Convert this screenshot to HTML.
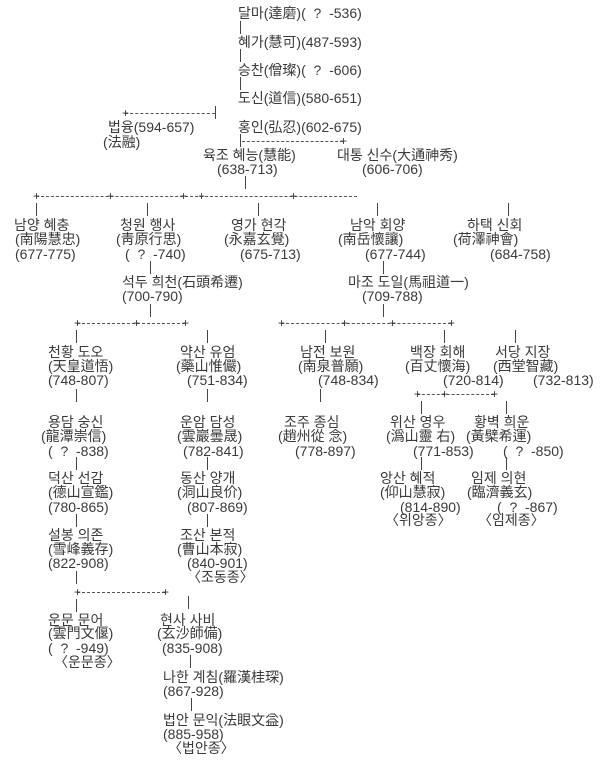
<!DOCTYPE html>
<html><head><meta charset="utf-8">
<style>
body{margin:0;background:#fff;}
#c{position:relative;width:600px;height:775px;overflow:hidden;background:#fff;font-family:"Liberation Sans","Noto Sans CJK KR",sans-serif;font-size:14px;color:#3a3a3a;}
.t{position:absolute;white-space:pre;line-height:14px;}
.v{position:absolute;width:1px;background:#444;height:13px;}
.h{position:absolute;height:0;border-top:1px dashed #555;}
.p{position:absolute;font-size:12px;line-height:11px;color:#333;}
</style></head><body><div id="c">
<div class="t" style="left:238px;top:6px">달마(達磨)(  ?  -536)</div>
<div class="v" style="left:240px;top:21px"></div>
<div class="t" style="left:238px;top:35px">혜가(慧可)(487-593)</div>
<div class="v" style="left:240px;top:49px"></div>
<div class="t" style="left:238px;top:63px">승찬(僧璨)(  ?  -606)</div>
<div class="v" style="left:240px;top:77px"></div>
<div class="t" style="left:238px;top:91px">도신(道信)(580-651)</div>
<div class="h" style="left:125px;top:113px;width:90px"></div>
<div class="p" style="left:122px;top:108px">+</div>
<div class="v" style="left:215px;top:106px"></div>
<div class="t" style="left:108px;top:120px">법융(594-657)</div>
<div class="t" style="left:103px;top:135px">(法融)</div>
<div class="t" style="left:238px;top:120px">홍인(弘忍)(602-675)</div>
<div class="v" style="left:240px;top:134px"></div>
<div class="h" style="left:242px;top:141px;width:101px"></div>
<div class="p" style="left:340px;top:136px">+</div>
<div class="t" style="left:203px;top:148px">육조 혜능(慧能)</div>
<div class="t" style="left:217px;top:162px">(638-713)</div>
<div class="t" style="left:337px;top:148px">대통 신수(大通神秀)</div>
<div class="t" style="left:362px;top:162px">(606-706)</div>
<div class="v" style="left:245px;top:176px"></div>
<div class="h" style="left:36px;top:196px;width:321px"></div>
<div class="p" style="left:33px;top:191px">+</div>
<div class="p" style="left:107px;top:191px">+</div>
<div class="p" style="left:180px;top:191px">+</div>
<div class="p" style="left:198px;top:191px">+</div>
<div class="p" style="left:290px;top:191px">+</div>
<div class="v" style="left:36px;top:203px"></div>
<div class="v" style="left:147px;top:203px"></div>
<div class="v" style="left:258px;top:203px"></div>
<div class="v" style="left:377px;top:203px"></div>
<div class="v" style="left:508px;top:203px"></div>
<div class="t" style="left:14px;top:218px">남양 혜충</div>
<div class="t" style="left:15px;top:232px">(南陽慧忠)</div>
<div class="t" style="left:15px;top:247px">(677-775)</div>
<div class="t" style="left:120px;top:218px">청원 행사</div>
<div class="t" style="left:116px;top:232px">(靑原行思)</div>
<div class="t" style="left:125px;top:247px">(  ?  -740)</div>
<div class="t" style="left:231px;top:218px">영가 현각</div>
<div class="t" style="left:224px;top:232px">(永嘉玄覺)</div>
<div class="t" style="left:240px;top:247px">(675-713)</div>
<div class="t" style="left:350px;top:218px">남악 회양</div>
<div class="t" style="left:338px;top:232px">(南岳懷讓)</div>
<div class="t" style="left:365px;top:247px">(677-744)</div>
<div class="t" style="left:467px;top:218px">하택 신회</div>
<div class="t" style="left:453px;top:232px">(荷澤神會)</div>
<div class="t" style="left:490px;top:247px">(684-758)</div>
<div class="v" style="left:150px;top:261px"></div>
<div class="v" style="left:383px;top:261px"></div>
<div class="t" style="left:122px;top:275px">석두 희천(石頭希遷)</div>
<div class="t" style="left:122px;top:289px">(700-790)</div>
<div class="t" style="left:348px;top:275px">마조 도일(馬祖道一)</div>
<div class="t" style="left:362px;top:289px">(709-788)</div>
<div class="v" style="left:150px;top:304px"></div>
<div class="v" style="left:383px;top:304px"></div>
<div class="h" style="left:77px;top:323px;width:108px"></div>
<div class="p" style="left:74px;top:318px">+</div>
<div class="p" style="left:133px;top:318px">+</div>
<div class="p" style="left:182px;top:318px">+</div>
<div class="h" style="left:281px;top:323px;width:170px"></div>
<div class="p" style="left:278px;top:318px">+</div>
<div class="p" style="left:341px;top:318px">+</div>
<div class="p" style="left:389px;top:318px">+</div>
<div class="p" style="left:448px;top:318px">+</div>
<div class="v" style="left:76px;top:330px"></div>
<div class="v" style="left:207px;top:330px"></div>
<div class="v" style="left:325px;top:330px"></div>
<div class="v" style="left:444px;top:330px"></div>
<div class="v" style="left:515px;top:330px"></div>
<div class="t" style="left:48px;top:345px">천황 도오</div>
<div class="t" style="left:48px;top:359px">(天皇道悟)</div>
<div class="t" style="left:48px;top:373px">(748-807)</div>
<div class="t" style="left:180px;top:345px">약산 유엄</div>
<div class="t" style="left:176px;top:359px">(藥山惟儼)</div>
<div class="t" style="left:187px;top:373px">(751-834)</div>
<div class="t" style="left:300px;top:345px">남전 보원</div>
<div class="t" style="left:298px;top:359px">(南泉普願)</div>
<div class="t" style="left:318px;top:373px">(748-834)</div>
<div class="t" style="left:410px;top:345px">백장 회해</div>
<div class="t" style="left:405px;top:359px">(百丈懷海)</div>
<div class="t" style="left:443px;top:373px">(720-814)</div>
<div class="t" style="left:495px;top:345px">서당 지장</div>
<div class="t" style="left:493px;top:359px">(西堂智藏)</div>
<div class="t" style="left:533px;top:373px">(732-813)</div>
<div class="v" style="left:76px;top:389px"></div>
<div class="v" style="left:207px;top:389px"></div>
<div class="v" style="left:320px;top:389px"></div>
<div class="h" style="left:417px;top:394px;width:77px"></div>
<div class="p" style="left:414px;top:389px">+</div>
<div class="p" style="left:441px;top:389px">+</div>
<div class="p" style="left:491px;top:389px">+</div>
<div class="v" style="left:421px;top:401px"></div>
<div class="v" style="left:506px;top:401px"></div>
<div class="t" style="left:48px;top:415px">용담 숭신</div>
<div class="t" style="left:41px;top:429px">(龍潭崇信)</div>
<div class="t" style="left:48px;top:444px">(  ?  -838)</div>
<div class="t" style="left:180px;top:415px">운암 담성</div>
<div class="t" style="left:177px;top:429px">(雲巖曇晟)</div>
<div class="t" style="left:183px;top:444px">(782-841)</div>
<div class="t" style="left:284px;top:415px">조주 종심</div>
<div class="t" style="left:278px;top:429px">(趙州從 念)</div>
<div class="t" style="left:295px;top:444px">(778-897)</div>
<div class="t" style="left:390px;top:415px">위산 영우</div>
<div class="t" style="left:386px;top:429px">(潙山靈 右)</div>
<div class="t" style="left:413px;top:444px">(771-853)</div>
<div class="t" style="left:474px;top:415px">황벽 희운</div>
<div class="t" style="left:466px;top:429px">(黃檗希運)</div>
<div class="t" style="left:503px;top:444px">(  ?  -850)</div>
<div class="v" style="left:76px;top:457px"></div>
<div class="v" style="left:207px;top:457px"></div>
<div class="v" style="left:421px;top:457px"></div>
<div class="v" style="left:506px;top:457px"></div>
<div class="t" style="left:48px;top:471px">덕산 선감</div>
<div class="t" style="left:48px;top:485px">(德山宣鑑)</div>
<div class="t" style="left:48px;top:500px">(780-865)</div>
<div class="t" style="left:180px;top:471px">동산 양개</div>
<div class="t" style="left:177px;top:485px">(洞山良价)</div>
<div class="t" style="left:187px;top:500px">(807-869)</div>
<div class="t" style="left:380px;top:471px">앙산 혜적</div>
<div class="t" style="left:380px;top:485px">(仰山慧寂)</div>
<div class="t" style="left:400px;top:500px">(814-890)</div>
<div class="t" style="left:385px;top:513px">〈위앙종〉</div>
<div class="t" style="left:471px;top:471px">임제 의현</div>
<div class="t" style="left:467px;top:485px">(臨濟義玄)</div>
<div class="t" style="left:497px;top:500px">(  ?  -867)</div>
<div class="t" style="left:478px;top:513px">〈임제종〉</div>
<div class="v" style="left:76px;top:514px"></div>
<div class="v" style="left:207px;top:514px"></div>
<div class="t" style="left:48px;top:528px">설봉 의존</div>
<div class="t" style="left:48px;top:542px">(雪峰義存)</div>
<div class="t" style="left:48px;top:556px">(822-908)</div>
<div class="t" style="left:180px;top:528px">조산 본적</div>
<div class="t" style="left:177px;top:542px">(曹山本寂)</div>
<div class="t" style="left:187px;top:556px">(840-901)</div>
<div class="t" style="left:187px;top:570px">〈조동종〉</div>
<div class="v" style="left:76px;top:571px"></div>
<div class="h" style="left:77px;top:592px;width:88px"></div>
<div class="p" style="left:74px;top:587px">+</div>
<div class="p" style="left:162px;top:587px">+</div>
<div class="v" style="left:76px;top:599px"></div>
<div class="v" style="left:188px;top:596px"></div>
<div class="t" style="left:48px;top:613px">운문 문어</div>
<div class="t" style="left:48px;top:626px">(雲門文偃)</div>
<div class="t" style="left:48px;top:641px">(  ?  -949)</div>
<div class="t" style="left:54px;top:655px">〈운문종〉</div>
<div class="t" style="left:160px;top:613px">현사 사비</div>
<div class="t" style="left:157px;top:626px">(玄沙師備)</div>
<div class="t" style="left:162px;top:641px">(835-908)</div>
<div class="v" style="left:190px;top:655px"></div>
<div class="t" style="left:163px;top:670px">나한 계침(羅漢桂琛)</div>
<div class="t" style="left:163px;top:684px">(867-928)</div>
<div class="v" style="left:191px;top:698px"></div>
<div class="t" style="left:163px;top:713px">법안 문익(法眼文益)</div>
<div class="t" style="left:163px;top:727px">(885-958)</div>
<div class="t" style="left:168px;top:741px">〈법안종〉</div>
</div></body></html>
